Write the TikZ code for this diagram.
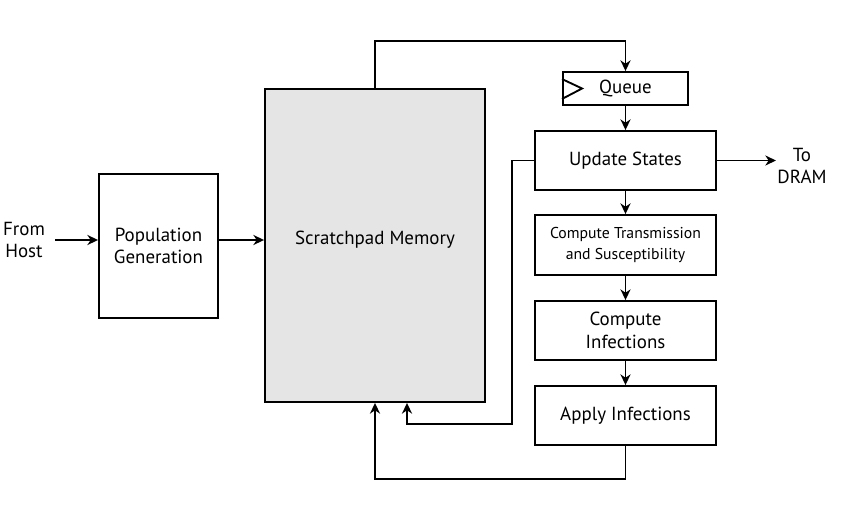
\documentclass[tikz,border=0pt]{standalone}
\usepackage{fontspec}
\setmainfont{PT Sans}
\usetikzlibrary{arrows.meta,calc}
\begin{document}
\begin{tikzpicture}[x=0.75pt,y=-0.75pt,
  blk/.style={draw=black,line width=1.4pt,fill=white,align=center,inner sep=0pt,font=\fontsize{14.2}{17}\selectfont},
  arr/.style={line width=1.4pt,-{Stealth[length=8pt,width=7.5pt,inset=2.5pt]}},
  ln/.style={line width=1.4pt},
  lbl/.style={align=center,inner sep=0pt,font=\fontsize{14.2}{17}\selectfont}]
\useasboundingbox (0,0) rectangle (850,507);
\node[blk,minimum width=119*0.75pt,minimum height=144*0.75pt] (pg) at (158.5,246) {Population\\Generation};
\node[blk,fill=black!10,minimum width=220*0.75pt,minimum height=313*0.75pt] (sp) at (375,245.5) {};
\node[lbl] (spt) at (375,240) {Scratchpad Memory};
\node[blk,minimum width=125*0.75pt,minimum height=33*0.75pt] (q) at (625.5,88.5) {Queue};
\node[blk,minimum width=181*0.75pt,minimum height=59*0.75pt] (us) at (625.5,160.5) {Update States};
\node[blk,minimum width=181*0.75pt,minimum height=60*0.75pt,font=\fontsize{11.8}{16}\selectfont] (ct) at (625.5,245) {Compute Transmission\\and Susceptibility};
\node[blk,minimum width=181*0.75pt,minimum height=59*0.75pt] (ci) at (625.5,330.5) {Compute\\Infections};
\node[blk,minimum width=181*0.75pt,minimum height=59*0.75pt] (ai) at (625.5,415.5) {Apply Infections};
\node[lbl] (host) at (24,240) {From\\Host};
\node[lbl] (dram) at (802,166) {To\\DRAM};
\coordinate (hs) at (55,240);
\coordinate (dr) at (776,160.5);
\coordinate (top) at (625.5,41);
\coordinate (c1) at (512,424);
\coordinate (c2) at (407,424);
\coordinate (c3) at (375,479);
\draw[ln] ($(q.north west)+(0,8)$) -- ($(q.west)+(20,0)$) -- ($(q.south west)+(0,-7)$);
\draw[arr] (hs) -- (pg.west |- hs);
\draw[arr] (pg.east |- hs) -- (sp.west |- hs);
\draw[arr] (sp.north) |- (top) -- (q.north);
\draw[arr] (q.south) -- (us.north);
\draw[arr] (us.south) -- (ct.north);
\draw[arr] (ct.south) -- (ci.north);
\draw[arr] (ci.south) -- (ai.north);
\draw[arr] (us.east) -- (dr);
\draw[arr] (us.west) -| (c1) -- (c2) -- (c2 |- sp.south);
\draw[arr] (ai.south) |- (c3) -- (sp.south);
\end{tikzpicture}
\end{document}
